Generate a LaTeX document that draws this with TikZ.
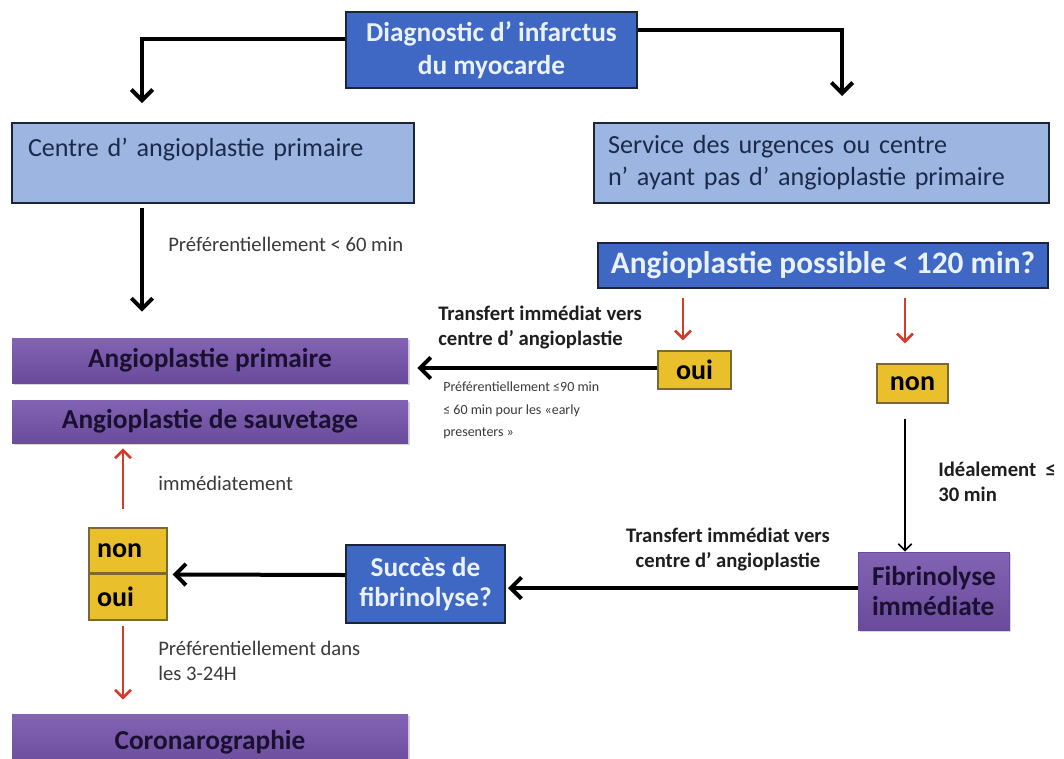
\documentclass[tikz,border=0pt]{standalone}
\usepackage{fontspec}
\setmainfont{Carlito}
\usetikzlibrary{arrows.meta,calc,shadows}
\definecolor{dblue}{HTML}{3F68C4}
\definecolor{lblue}{HTML}{9DB5E1}
\definecolor{bord}{HTML}{1C2438}
\definecolor{purtop}{HTML}{8363B4}
\definecolor{purbot}{HTML}{6A4B9B}
\definecolor{yel}{HTML}{E9BF2B}
\definecolor{yelbord}{HTML}{7A6A30}
\definecolor{redar}{HTML}{D63B2A}
\definecolor{gtext}{HTML}{3A3A3A}
\definecolor{btext}{HTML}{1E1E1E}
\definecolor{wtext}{HTML}{E9F1FB}
\definecolor{ptext}{HTML}{1A1030}
\definecolor{ltext}{HTML}{1C2A4A}
\tikzset{
  darkbox/.style={draw=bord, line width=1.5pt, fill=dblue, text=wtext, inner sep=0pt, align=center,
    font=\bfseries\fontsize{20.5}{22}\selectfont},
  lightbox/.style={draw=bord, line width=1.5pt, fill=lblue, text=ltext, inner ysep=0pt, align=left,
    font=\fontsize{19.6}{24}\selectfont},
  purbox/.style={top color=purtop, bottom color=purbot, draw=none, text=ptext, inner sep=0pt,
    font=\bfseries\fontsize{20.5}{22.5}\selectfont,
    drop shadow={shadow xshift=1.2pt, shadow yshift=-1.5pt, opacity=0.3}},
  yelbox/.style={draw=yelbord, line width=0.8pt, fill=yel, text=black, inner sep=0pt,
    font=\bfseries\fontsize{21}{22}\selectfont},
  blk/.style={line width=3pt, -{Straight Barb[length=8pt,width=16pt,line width=3pt]}},
  redarrow/.style={draw=redar, line width=2pt, -{Straight Barb[length=6pt,width=12pt,line width=2pt]}},
  thinarrow/.style={line width=1.2pt, -{Straight Barb[length=5pt,width=10pt,line width=1.2pt]}},
  graylbl/.style={text=gtext, anchor=west, align=left, inner sep=0pt, font=\fontsize{15.5}{18.75}\selectfont},
  boldlbl/.style={text=btext, anchor=west, align=left, inner sep=0pt, font=\bfseries\fontsize{15.5}{18.75}\selectfont},
}
\begin{document}
\begin{tikzpicture}[x=0.75pt,y=-0.75pt]
\useasboundingbox[fill=white] (0,0) rectangle (1064,758);

% boxes
\node[darkbox, minimum width=218.25pt, minimum height=57pt, font=\bfseries\fontsize{20.5}{25}\selectfont] (diag) at (491.5,50)
  {Diagnostic d’ infarctus\\du myocarde};
\node[lightbox, inner xsep=12pt, text width=277.5pt, minimum height=60pt] (centre) at (213,163)
  {Centre d’ angioplastie primaire\\\mbox{}};
\node[lightbox, inner xsep=10.5pt, text width=320.25pt, minimum height=60pt] (service) at (821.5,163)
  {Service des urgences ou centre\\n’ ayant pas d’ angioplastie primaire};
\node[darkbox, minimum width=337.5pt, minimum height=33.75pt, font=\bfseries\fontsize{23.5}{25}\selectfont] (angio) at (823,265.5)
  {Angioplastie possible < 120 min?};
\node[yelbox, minimum width=54.75pt, minimum height=28.5pt] (oui1) at (694.5,370) {oui};
\node[yelbox, minimum width=53.25pt, minimum height=29.25pt] (non1) at (912.5,383.5) {non};
\node[purbox, minimum width=297pt, minimum height=33.75pt] (ap) at (210,360.5) {Angioplastie primaire};
\node[purbox, minimum width=297pt, minimum height=32.25pt] (as) at (210,421.5) {Angioplastie de sauvetage};
\node[yelbox, minimum height=33.75pt, inner xsep=6pt, text width=46.5pt, align=left] (non2) at (128,550.5) {non};
\node[yelbox, minimum height=34.5pt, inner xsep=6pt, text width=46.5pt, align=left] (oui2) at (128,597) {oui};
\node[darkbox, minimum width=119.25pt, minimum height=58.5pt] (succes) at (425.5,584) {Succès de\\fibrinolyse?};
\node[purbox, draw=purbot, line width=0.6pt, inner xsep=10.5pt, text width=92.25pt, align=left, minimum height=58.5pt] (fib) at (933.5,591)
  {Fibrinolyse\\immédiate};
\node[purbox, minimum width=297pt, minimum height=42pt] (coro) at (210,742) {Coronarographie};

% labels
\node[graylbl] (l60) at (168,244) {Préférentiellement < 60 min};
\node[boldlbl] (ltr1) at (438,327.5) {Transfert immédiat vers\\centre d’ angioplastie};
\node[graylbl, font=\fontsize{10.5}{16.9}\selectfont] (l90) at (443,410.5)
  {Préférentiellement ≤90 min\\≤ 60 min pour les «early\\presenters »};
\node[graylbl] (limm) at (158,483) {immédiatement};
\node[boldlbl, anchor=center, align=center] (ltr2) at (728,549.5) {Transfert immédiat vers\\centre d’ angioplastie};
\node[boldlbl] (lid) at (938,482) {Idéalement \ ≤\\30 min};
\node[graylbl] (l324) at (158,660.5) {Préférentiellement dans\\les 3-24H};

% connectors
\draw[blk] ($(diag.west)+(0,-11)$) -| ($(centre.north)+(-71,-19)$);
\draw[blk] ($(diag.east)+(0,-20)$) -| ($(service.north)+(20.5,-26)$);
\draw[blk] ($(centre.south)+(-71,4)$) -- ($(ap.north)+(-68,-26)$);
\draw[redarrow] ($(angio.south)+(-140,9)$) -- ($(oui1.north)+(-11.5,-10)$);
\draw[redarrow] ($(angio.south)+(82,9)$) -- ($(non1.north)+(-7.5,-20)$);
\draw[blk] ($(oui1.west)+(0,-2)$) -- ($(ap.east)+(9,7.5)$);
\draw[thinarrow] ($(non1.south)+(-7.5,15)$) -- ($(fib.north)+(-28.5,0)$);
\draw[blk] ($(fib.west)+(0,-3)$) -- ($(succes.east)+(2,4)$);
\draw[blk] ($(succes.west)+(0,-9)$) -- ($(oui2.north east)+(5,1)$);
\draw[redarrow] ($(non2.north)+(-5,-18)$) -- ($(as.south)+(-87,5)$);
\draw[redarrow] ($(oui2.south)+(-5,5)$) -- ($(coro.north)+(-87,-14)$);
\end{tikzpicture}
\end{document}
